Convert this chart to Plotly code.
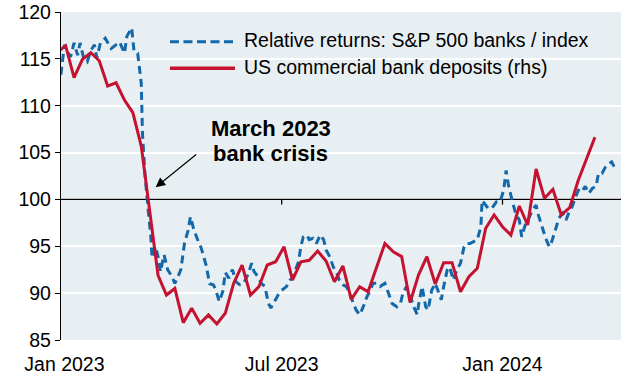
import pandas as pd
import plotly.graph_objects as go

# Relative returns of S&P 500 banks vs the index (rebased), sampled every few days
bank_rel_dates = [
    "2022-12-29", "2023-01-01", "2023-01-03", "2023-01-06", "2023-01-09", "2023-01-12",
    "2023-01-14", "2023-01-17", "2023-01-20", "2023-01-23", "2023-01-26", "2023-01-28",
    "2023-01-31", "2023-02-04", "2023-02-09", "2023-02-13", "2023-02-16", "2023-02-20",
    "2023-02-22", "2023-02-26", "2023-02-28", "2023-03-03", "2023-03-06", "2023-03-07",
    "2023-03-09", "2023-03-11", "2023-03-14", "2023-03-15", "2023-03-18", "2023-03-20",
    "2023-03-22", "2023-03-25", "2023-03-28", "2023-03-31", "2023-04-03", "2023-04-05",
    "2023-04-08", "2023-04-11", "2023-04-14", "2023-04-16", "2023-04-19", "2023-04-22",
    "2023-04-25", "2023-04-29", "2023-05-02", "2023-05-05", "2023-05-07", "2023-05-10",
    "2023-05-13", "2023-05-15", "2023-05-18", "2023-05-21", "2023-05-24", "2023-05-27",
    "2023-05-30", "2023-06-03", "2023-06-06", "2023-06-08", "2023-06-11", "2023-06-14",
    "2023-06-17", "2023-06-20", "2023-06-22", "2023-06-25", "2023-06-28", "2023-07-01",
    "2023-07-05", "2023-07-08", "2023-07-10", "2023-07-15", "2023-07-17", "2023-07-19",
    "2023-07-22", "2023-07-24", "2023-07-27", "2023-07-30", "2023-08-02", "2023-08-05",
    "2023-08-07", "2023-08-10", "2023-08-13", "2023-08-16", "2023-08-18", "2023-08-21",
    "2023-08-24", "2023-08-27", "2023-08-30", "2023-09-01", "2023-09-04", "2023-09-07",
    "2023-09-10", "2023-09-13", "2023-09-15", "2023-09-18", "2023-09-21", "2023-09-25",
    "2023-09-28", "2023-10-01", "2023-10-05", "2023-10-08", "2023-10-10", "2023-10-13",
    "2023-10-16", "2023-10-19", "2023-10-22", "2023-10-23", "2023-10-26", "2023-10-29",
    "2023-10-31", "2023-11-03", "2023-11-06", "2023-11-09", "2023-11-11", "2023-11-13",
    "2023-11-16", "2023-11-18", "2023-11-21", "2023-11-24", "2023-11-27", "2023-11-30",
    "2023-12-02", "2023-12-05", "2023-12-08", "2023-12-11", "2023-12-14", "2023-12-15",
    "2023-12-18", "2023-12-20", "2023-12-23", "2023-12-27", "2023-12-30", "2024-01-02",
    "2024-01-04", "2024-01-06", "2024-01-09", "2024-01-12", "2024-01-15", "2024-01-17",
    "2024-01-20", "2024-01-23", "2024-01-26", "2024-01-29", "2024-01-31", "2024-02-03",
    "2024-02-06", "2024-02-09", "2024-02-11", "2024-02-14", "2024-02-17", "2024-02-20",
    "2024-02-23", "2024-02-25", "2024-02-28", "2024-03-02", "2024-03-05", "2024-03-08",
    "2024-03-10", "2024-03-13", "2024-03-16", "2024-03-19", "2024-03-21", "2024-03-24",
    "2024-03-27", "2024-03-30", "2024-04-01", "2024-04-03",
]
bank_rel_values = [
    113.3, 116.5, 115.9, 115.2, 116.7, 115.4,
    116.7, 115.1, 114.7, 115.9, 116.5, 115.1,
    116.7, 117.2, 116.1, 116.5, 116.8, 115.6,
    117.4, 118.3, 115.8, 115.6, 112.4, 107.1,
    102.8, 99.9, 96.0, 93.75, 94.95, 93.9,
    92.3, 94.1, 92.5, 91.9, 91.05, 91.6,
    92.5, 95.3, 96.7, 98.15, 96.7, 95.7,
    94.8, 93.0, 91.0, 90.9, 90.4, 89.1,
    90.2, 92.2, 91.6, 92.5, 91.2, 90.9,
    91.0, 92.0, 93.2, 92.3, 91.8, 91.05,
    90.7, 88.9, 88.4, 89.1, 89.8, 90.3,
    90.7, 91.4, 91.6, 93.35, 94.95, 96.0,
    96.2, 95.7, 95.85, 95.3, 96.2, 95.7,
    94.6, 93.9, 92.8, 92.1, 91.4, 90.9,
    90.7, 89.8, 88.9, 88.2, 87.7, 88.55,
    89.6, 90.3, 91.05, 91.05, 90.7, 91.05,
    90.0, 88.9, 88.55, 88.9, 90.0, 90.7,
    89.8, 88.55, 87.7, 88.7, 90.7, 88.55,
    88.2, 90.3, 91.05, 90.0, 89.3, 90.7,
    92.5, 92.8, 91.4, 92.5, 93.2, 94.95,
    95.3, 95.3, 95.5, 95.7, 97.1, 99.9,
    99.4, 99.05, 99.05, 99.75, 99.75, 101.0,
    103.1, 101.5, 99.9, 98.5, 97.8, 96.0,
    97.3, 98.0, 98.9, 99.4, 98.3, 97.1,
    95.85, 94.95, 95.5, 96.7, 98.0, 98.5,
    97.8, 98.5, 99.2, 100.3, 101.2, 101.0,
    101.4, 100.65, 101.2, 101.4, 102.8, 102.8,
    103.5, 103.85, 104.0, 103.5,
]

# US commercial bank deposits (weekly, rhs scale)
deposit_start = "2022-12-26"
deposit_values = [
    115.7, 116.4, 113.0, 114.95, 115.65, 114.8, 112.1, 112.45, 110.6, 109.25,
    105.7, 98.6, 91.9, 89.8, 90.5, 86.85, 88.4, 86.78, 87.67, 86.71,
    87.85, 91.05, 93.0, 89.8, 90.69, 93.0, 93.35, 94.95, 91.4, 93.35,
    93.5, 94.5, 93.43, 91.22, 92.9, 89.34, 90.69, 90.15, 92.65, 95.3,
    94.4, 93.9, 89.0, 91.93, 93.89, 90.97, 93.25, 93.25, 90.15, 91.75,
    92.65, 96.92, 98.34, 97.09, 96.2, 99.3, 97.27, 103.25, 100.12, 101.08,
    98.34, 99.12, 102.0, 104.39, 106.63,
]
deposit_dates = pd.date_range(deposit_start, periods=len(deposit_values), freq="7D")

series_names = [
    "Relative returns: S&P 500 banks / index",
    "US commercial bank deposits (rhs)",
]
x_range = ["2022-12-29 03:00", "2024-04-08 18:00"]
tick_dates = ["2023-01-01", "2023-07-01", "2024-01-01"]
tick_labels = ["Jan 2023", "Jul 2023", "Jan 2024"]
y_ticks = [85, 90, 95, 100, 105, 110, 115, 120]

BLUE = "#1268a8"
RED = "#c41230"
FONT = "Liberation Sans, Arial, sans-serif"

fig = go.Figure()
fig.add_trace(go.Scatter(
    x=pd.to_datetime(bank_rel_dates), y=bank_rel_values, mode="lines",
    name=series_names[0], line=dict(color=BLUE, width=3, dash="8px,5px"),
    showlegend=False,
))
fig.add_trace(go.Scatter(
    x=deposit_dates, y=deposit_values, mode="lines",
    name=series_names[1], line=dict(color=RED, width=3),
    showlegend=False,
))

shapes = [
    # reference line at 100 acting as the x axis
    dict(type="line", xref="x", yref="y", x0=x_range[0], x1=x_range[1], y0=100, y1=100,
         line=dict(color="black", width=1.3), layer="between"),
]
# small tick marks hanging from the 100 line
for d in tick_dates[1:]:
    shapes.append(dict(type="line", xref="x", yref="y", x0=d, x1=d, y0=100, y1=99.45,
                       line=dict(color="black", width=1.3), layer="between"))

# legend drawn as line samples with labels
legend_rows = [
    (0.9095, dict(color=BLUE, width=3, dash="9px,4.5px")),
    (0.8284, dict(color=RED, width=3.5)),
]
annotations = []
for (ypos, style), label in zip(legend_rows, series_names):
    shapes.append(dict(type="line", xref="paper", yref="paper", x0=0.1946, x1=0.3107,
                       y0=ypos, y1=ypos, line=style, layer="above"))
    annotations.append(dict(xref="paper", yref="paper", x=0.3227, y=ypos + 0.004,
                            xanchor="left", yanchor="middle", showarrow=False,
                            text=label, font=dict(size=19.5, color="black", family=FONT)))

annotations += [
    dict(xref="paper", yref="paper", x=0.3746, y=0.6448, xanchor="center", yanchor="middle",
         showarrow=False, text="<b>March 2023</b>",
         font=dict(size=22, color="black", family=FONT)),
    dict(xref="paper", yref="paper", x=0.3735, y=0.570, xanchor="center", yanchor="middle",
         showarrow=False, text="<b>bank crisis</b>",
         font=dict(size=22, color="black", family=FONT)),
    dict(xref="x", yref="y", x="2023-03-18", y=101.3, text="", showarrow=True,
         ax=42, ay=-34, arrowhead=2, arrowsize=1.6, arrowwidth=1.2, arrowcolor="black"),
]

fig.update_layout(
    width=621, height=374,
    margin=dict(l=61, r=0, t=12, b=34),
    paper_bgcolor="white",
    plot_bgcolor="#e8eff3",
    font=dict(family=FONT, size=19.5, color="black"),
    shapes=shapes,
    annotations=annotations,
)
fig.update_xaxes(
    type="date", range=x_range,
    tickvals=tick_dates, ticktext=tick_labels,
    showgrid=False, showline=False, zeroline=False, ticks="",
    ticklabelstandoff=10,
    tickfont=dict(size=19.5, family=FONT, color="black"),
)
fig.update_yaxes(
    range=[85, 120], tickvals=y_ticks,
    showgrid=True, gridcolor="white", gridwidth=2,
    zeroline=False, showline=True, linecolor="black", linewidth=1.3,
    ticks="outside", ticklen=5, tickcolor="black", tickwidth=1.3,
    tickfont=dict(size=19.5, family=FONT, color="black"),
)

fig.write_html("out.html")
